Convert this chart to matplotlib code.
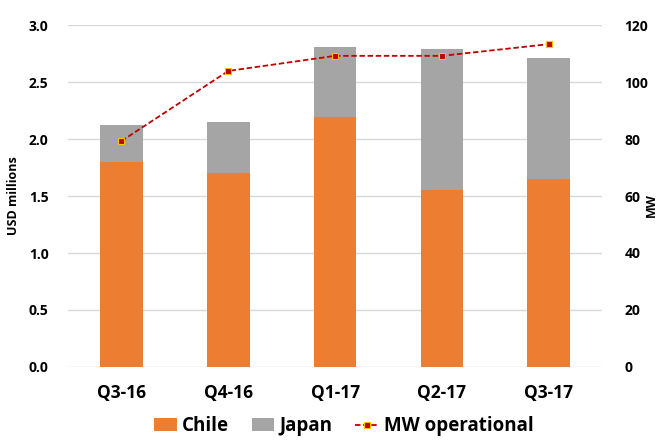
import matplotlib.pyplot as plt
import numpy as np

plt.rcParams['font.family'] = ['Open Sans', 'DejaVu Sans']
plt.rcParams['font.weight'] = 'bold'

quarters = ['Q3-16', 'Q4-16', 'Q1-17', 'Q2-17', 'Q3-17']
chile = [1.80, 1.70, 2.19, 1.55, 1.65]
japan = [0.32, 0.45, 0.62, 1.24, 1.06]
mw_operational = [79.3, 103.9, 109.2, 109.2, 113.3]

x = np.arange(len(quarters))

fig = plt.figure(figsize=(6.61, 4.40), dpi=100)
ax = fig.add_axes([0.103, 0.166, 0.808, 0.777])
ax2 = ax.twinx()

b1 = ax.bar(x, chile, width=0.4, color='#ED7D31', label='Chile', zorder=3)
b2 = ax.bar(x, japan, width=0.4, bottom=chile, color='#A5A5A5', label='Japan', zorder=3)

ln, = ax2.plot(x, mw_operational, color='#C00000', linestyle='--', linewidth=1.3,
               dashes=(3, 1.5), marker='s', markersize=4, markerfacecolor='#C00000',
               markeredgecolor='#FFC000', markeredgewidth=0.8, label='MW operational')

ax.set_xlim(-0.5, len(quarters) - 0.5)
ax.set_ylim(0, 3.0)
yt = np.arange(0, 3.01, 0.5)
ax.set_yticks(yt)
ax.set_yticklabels(['%.1f' % v for v in yt], fontsize=10, fontweight='bold')
ax2.set_ylim(0, 120)
ax2.set_yticks(range(0, 121, 20))
ax2.set_yticklabels([str(v) for v in range(0, 121, 20)], fontsize=10, fontweight='bold')

ax.set_xticks(x)
ax.set_xticklabels(quarters, fontsize=12.5, fontweight='bold')
ax.tick_params(axis='x', length=0, pad=12)
ax.tick_params(axis='y', length=0, pad=14)
ax2.tick_params(axis='y', length=0, pad=16)

ax.grid(axis='y', color='#D9D9D9', linewidth=1, zorder=0)
for a in (ax, ax2):
    for s in a.spines.values():
        s.set_visible(False)

ax.set_ylabel('USD millions', fontsize=9, fontweight='bold', labelpad=6)
fig.text(0.986, 0.535, 'MW', rotation=90, ha='center', va='center',
         fontsize=9, fontweight='bold')

fig.legend([b1, b2, ln], ['Chile', 'Japan', 'MW operational'], loc='lower center',
           bbox_to_anchor=(0.52, -0.03), ncol=3, frameon=False,
           handlelength=1.2, handletextpad=0.3, columnspacing=1.2,
           prop={'weight': 'bold', 'size': 13.5})

fig.savefig('out.png', dpi=100)
